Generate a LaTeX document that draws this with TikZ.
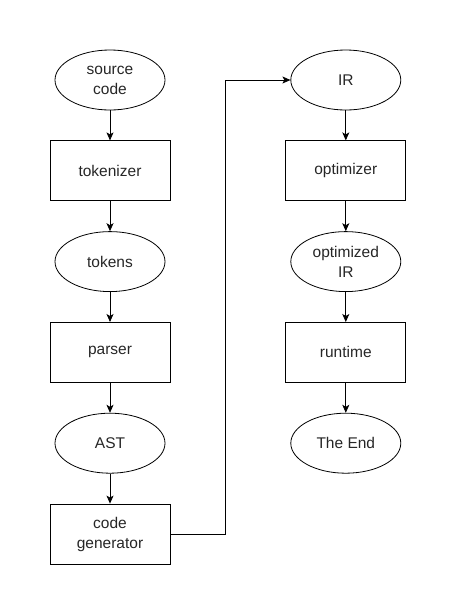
\documentclass[tikz,border=0pt]{standalone}
\usepackage{fontspec}
\setmainfont{Liberation Sans}
\usetikzlibrary{positioning}
\usetikzlibrary{arrows.meta}
\usetikzlibrary{shapes.geometric}

\begin{document}
\begin{tikzpicture}[x=1pt, y=1pt,
                        every node/.style={draw, line width=0.8pt, align=center, inner sep=0pt,
                                           text=black!85, font=\fontsize{15.5}{20}\selectfont},
                        oval/.style={ellipse, minimum width=110pt, minimum height=60pt},
                        box/.style={rectangle, minimum width=120pt, minimum height=60pt},
                        flow/.style={draw, line width=0.8pt, -{Stealth[length=8pt, width=7pt, inset=2pt]}},
                        node distance=30pt]
            \useasboundingbox (0,0) rectangle (456,-611);

            % left column
            \node[oval] (src) at (110,-80) {source\\code};
            \node[box, below=of src] (tok) {tokenizer};
            \node[oval, below=of tok] (tokens) {tokens};
            \node[box, below=of tokens] (parser) {parser};
            \node[oval, below=of parser] (ast) {AST};
            \node[box, below=of ast] (gen) {code\\generator};

            % right column
            \node[oval, right=125pt of src] (ir) {IR};
            \node[box, below=of ir] (opt) {optimizer};
            \node[oval, below=of opt] (optir) {optimized\\IR};
            \node[box, below=of optir] (run) {runtime};
            \node[oval, below=of run] (end) {The End};

            \foreach \a/\b in {src/tok, tok/tokens, tokens/parser, parser/ast, ast/gen,
                               ir/opt, opt/optir, optir/run, run/end}
                \draw[flow] (\a) -- (\b);

            \draw[flow] (gen.east) -- ++(55,0) |- (ir.west);
        \end{tikzpicture}
\end{document}
